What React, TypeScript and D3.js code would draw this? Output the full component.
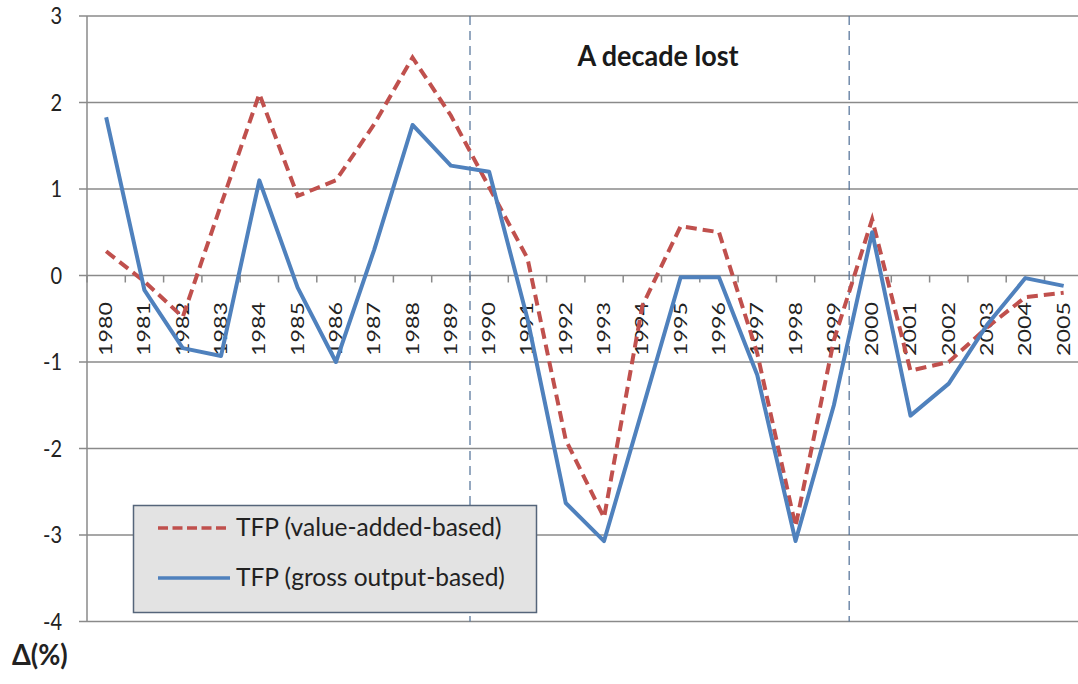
import React from "react";
import * as d3 from "d3";

const years = d3.range(1980, 2006);
const tfpValueAdded = [0.28, -0.07, -0.48, 0.82, 2.1, 0.92, 1.1, 1.75, 2.52, 1.85, 1.02, 0.2, -1.9, -2.8, -0.35, 0.57, 0.5, -0.9, -2.9, -0.75, 0.65, -1.1, -1.0, -0.6, -0.25, -0.2];
const tfpGrossOutput = [1.83, -0.17, -0.84, -0.93, 1.1, -0.14, -1.0, 0.3, 1.74, 1.27, 1.2, -0.5, -2.63, -3.07, -1.55, -0.02, -0.02, -1.15, -3.07, -1.5, 0.5, -1.62, -1.25, -0.57, -0.03, -0.12];
const yTicks = [3, 2, 1, 0, -1, -2, -3, -4];
const decadeBounds = [1989.5, 1999.4];
const seriesNames = ["TFP (value-added-based)", "TFP (gross output-based)"];
const annotation = "A decade lost";
const unitLabel = "Δ(%)";

const W = 1078;
const H = 684;
const FONT = "Lato, 'Open Sans', sans-serif";

export default function App() {
  const x = d3.scaleLinear().domain([1979.5, 2005.5]).range([87, 87 + 26 * 38.3]);
  const y = d3.scaleLinear().domain([-4, 3]).range([621.5, 16]);
  const plotLeft = 87;
  const plotRight = W;
  const line = d3
    .line<number>()
    .x((_, i) => x(years[i]))
    .y((d) => y(d));
  const tickXs = d3.range(0, 27).map((k) => x(1979.5 + k));
  const red = "#c0504d";
  const blue = "#4f81bd";

  return (
    <svg width={W} height={H} style={{ position: "absolute", left: 0, top: 0, background: "#fff" }} fontFamily={FONT}>
      {/* gridlines */}
      {yTicks.map((t) => (
        <line key={t} x1={plotLeft} x2={plotRight} y1={y(t)} y2={y(t)} stroke="#8a8a8a" strokeWidth={1.5} />
      ))}
      {/* y axis */}
      <line x1={plotLeft} x2={plotLeft} y1={y(3)} y2={y(-4)} stroke="#8a8a8a" strokeWidth={1.5} />
      {yTicks.map((t) => (
        <line key={"yt" + t} x1={plotLeft - 8} x2={plotLeft} y1={y(t)} y2={y(t)} stroke="#8a8a8a" strokeWidth={1.5} />
      ))}
      {yTicks.map((t) => (
        <text key={"yl" + t} transform={`translate(62, ${y(t) + 8}) scale(1,1.2)`} textAnchor="end" fontSize={20} fill="#222">
          {t}
        </text>
      ))}
      {/* x axis ticks on zero line */}
      {tickXs.map((tx, k) => (
        <line key={"xt" + k} x1={tx} x2={tx} y1={y(0)} y2={y(0) + 7} stroke="#8a8a8a" strokeWidth={1.5} />
      ))}
      {years.map((yr) => (
        <text
          key={"xl" + yr}
          transform={`translate(${x(yr) + 6}, 302) rotate(-90) scale(1.37,1)`}
          textAnchor="end"
          fontSize={17}
          fill="#222"
        >
          {yr}
        </text>
      ))}
      {/* decade bounds */}
      {decadeBounds.map((b) => (
        <line key={"db" + b} x1={x(b)} x2={x(b)} y1={y(3)} y2={y(-4)} stroke="#4f6f96" strokeWidth={1.2} strokeDasharray="9,6" />
      ))}
      <text transform={`translate(658, 66) scale(1,1.05)`} textAnchor="middle" fontSize={27} fontWeight="bold" fill="#1a1a1a">
        {annotation}
      </text>
      {/* series */}
      <path d={line(tfpValueAdded) || ""} fill="none" stroke={red} strokeWidth={4} strokeDasharray="11,6" />
      <path d={line(tfpGrossOutput) || ""} fill="none" stroke={blue} strokeWidth={4} strokeLinejoin="round" />
      {/* legend */}
      <rect x={133.5} y={505.5} width={403} height={107} fill="#e3e3e3" stroke="#55657a" strokeWidth={1.5} />
      <line x1={158} x2={230} y1={528} y2={528} stroke={red} strokeWidth={3.5} strokeDasharray="10,4.5" />
      <line x1={158} x2={230} y1={578} y2={578} stroke={blue} strokeWidth={3.5} />
      <text transform={`translate(236, 536) scale(1,1.05)`} fontSize={24.5} fill="#222">
        {seriesNames[0]}
      </text>
      <text transform={`translate(236, 586) scale(1,1.05)`} fontSize={24.5} fill="#222">
        {seriesNames[1]}
      </text>
      <text transform={`translate(12, 665) scale(1,1.05)`} fontSize={27} fontWeight="bold" fill="#222">
        {unitLabel}
      </text>
    </svg>
  );
}
